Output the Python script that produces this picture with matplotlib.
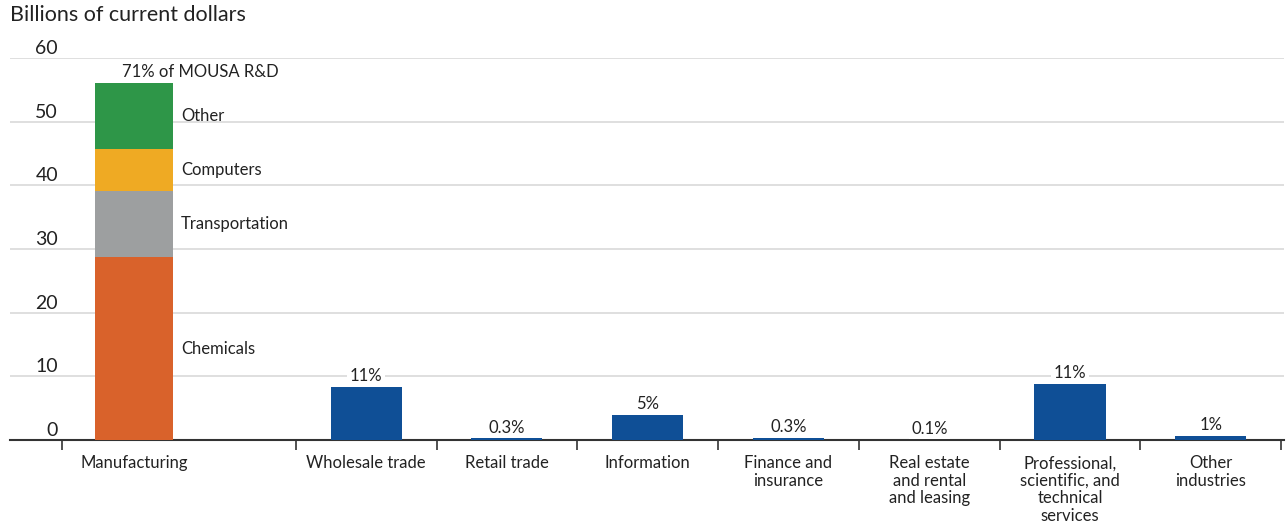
import matplotlib.pyplot as plt
import matplotlib.transforms as mtransforms
import numpy as np

plt.rcParams['font.family'] = ['Lato', 'DejaVu Sans']

# manufacturing stack (billions of current dollars)
mfg_parts = ["Chemicals", "Transportation", "Computers", "Other"]
mfg_values = [28.7, 10.4, 6.6, 10.3]
mfg_colors = ["#D9622B", "#9D9FA0", "#EFAA23", "#2E9648"]
mfg_note = "71% of MOUSA R&D"

industries = ["Wholesale trade", "Retail trade", "Information", "Finance and\ninsurance",
              "Real estate\nand rental\nand leasing", "Professional,\nscientific, and\ntechnical\nservices",
              "Other\nindustries"]
ind_values = [8.3, 0.25, 3.9, 0.35, 0.05, 8.8, 0.6]
ind_shares = ["11%", "0.3%", "5%", "0.3%", "0.1%", "11%", "1%"]

yticks = [0, 10, 20, 30, 40, 50, 60]

blue = "#0F4F96"
txt = "#222222"
fs = 12

fig = plt.figure(figsize=(12.86, 5.25), dpi=100)
ax = fig.add_axes([10 / 1286, 1 - 440 / 525, 1274 / 1286, (440 - 58) / 525])

mfg_x = 0.0
ind_x = 1.65 + np.arange(len(industries))
bounds = np.concatenate([[-0.51], ind_x - 0.5, [ind_x[-1] + 0.5]])

# stacked manufacturing bar
bottom = 0
for name, val, col in zip(mfg_parts, mfg_values, mfg_colors):
    ax.bar(mfg_x, val, width=0.555, bottom=bottom, color=col, zorder=3)
    ax.text(mfg_x + 0.335, bottom + val / 2, name, ha='left', va='center',
            fontsize=fs, color=txt)
    bottom += val
ax.text(mfg_x - 0.085, bottom + 0.6, mfg_note, ha='left', va='bottom', fontsize=fs, color=txt)

# other industries
ax.bar(ind_x, ind_values, width=0.505, color=blue, zorder=3)
for x, v, s in zip(ind_x, ind_values, ind_shares):
    ax.annotate(s, (x, v), xytext=(0, 2), textcoords='offset points', ha='center',
                va='bottom', fontsize=fs, color=txt, zorder=4,
                bbox=dict(boxstyle='square,pad=0.15', fc='white', ec='none'))

ax.set_xlim(-0.88, 8.17)
ax.set_ylim(0, 60)

ax.set_yticks(yticks)
ax.tick_params(axis='y', length=0, labelleft=False)
ax.yaxis.grid(True, color='#d9d9d9', lw=1.2, zorder=0)
ax.set_axisbelow(True)
for t in yticks:
    trans = mtransforms.offset_copy(ax.get_yaxis_transform(), fig=fig, x=0, y=1, units='dots')
    ax.text(48 / 1274, t, str(t), transform=trans, ha='right', va='bottom',
            fontsize=14, color=txt)

ax.set_xticks(np.concatenate([[mfg_x], ind_x]))
ax.set_xticklabels(["Manufacturing"] + industries, fontsize=fs, color=txt, linespacing=1.12)
ax.tick_params(axis='x', which='major', length=0, pad=11)
ax.set_xticks(bounds, minor=True)
ax.tick_params(axis='x', which='minor', length=7, width=1.2, color='#333333')

for s in ['top', 'right', 'left']:
    ax.spines[s].set_visible(False)
ax.spines['bottom'].set_color('#333333')
ax.spines['bottom'].set_linewidth(1.5)

fig.text(10 / 1286, 1 - 5 / 525, "Billions of current dollars", ha='left', va='top',
         fontsize=15.5, color=txt)

fig.savefig("out.png", dpi=100)
